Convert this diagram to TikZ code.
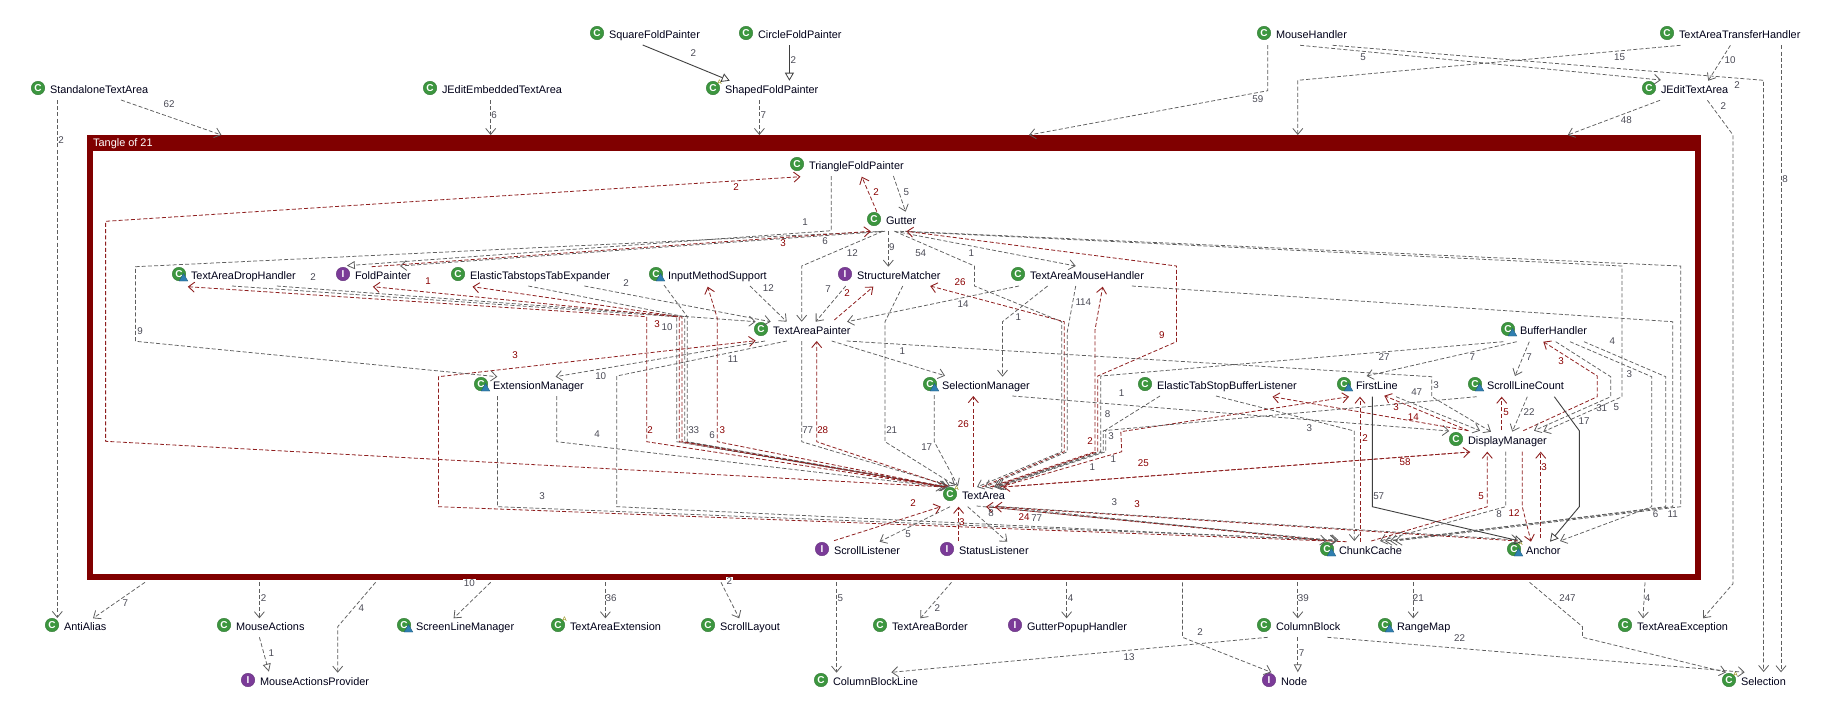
\documentclass[tikz,border=0pt]{standalone}
\usepackage{fontspec}
\setmainfont{Liberation Sans}
\usetikzlibrary{arrows.meta,shapes.geometric}
\definecolor{framered}{HTML}{800000}
\definecolor{depgray}{HTML}{5E5E5E}
\definecolor{depred}{HTML}{8F1F1F}
\definecolor{solidgray}{HTML}{3F3F3F}
\definecolor{lblgray}{HTML}{4A4A55}
\definecolor{lblred}{HTML}{8B0000}
\definecolor{iconC}{HTML}{3C963F}
\definecolor{iconI}{HTML}{7B3B98}
\definecolor{iconB}{HTML}{2F7FB0}
\tikzset{
  gd/.style={depgray,line width=0.75pt,dash pattern=on 4pt off 2.2pt,-{Straight Barb[length=6pt,width=10pt,line width=0.8pt]}},
  rd/.style={depred,line width=0.8pt,dash pattern=on 4pt off 2.2pt,-{Straight Barb[length=6pt,width=10pt,line width=0.9pt]}},
  gt/.style={depgray,line width=0.75pt,dash pattern=on 4pt off 2.2pt,-{Triangle[open,length=8pt,width=8pt,line width=0.8pt]}},
  inh/.style={solidgray,line width=0.9pt,-{Triangle[open,length=8pt,width=9pt,line width=0.8pt]}},
  cname/.style={inner sep=0pt,outer sep=0pt,text height=10pt,text depth=2pt,text=black!90!blue,font=\fontsize{10.9}{12}\selectfont},
  cicon/.style={circle,inner sep=0pt,outer sep=0pt,minimum size=13.5pt,fill=iconC,draw=iconC!80!black,line width=0.4pt,text=white,font=\bfseries\fontsize{10}{10}\selectfont},
  iicon/.style={circle,inner sep=0pt,outer sep=0pt,minimum size=13.5pt,fill=iconI,draw=iconI!80!black,line width=0.4pt,text=white,font=\bfseries\fontsize{10}{10}\selectfont},
  badge/.style={regular polygon,regular polygon sides=3,inner sep=0pt,outer sep=0pt,minimum size=10pt,fill=iconB,draw=iconB!70!black,line width=0.3pt},
  amark/.style={inner sep=0pt,text=olive,font=\fontsize{6.5}{7}\selectfont},
  gl/.style={inner sep=0pt,text=lblgray,font=\fontsize{9.8}{10}\selectfont},
  rl/.style={inner sep=0pt,text=lblred,font=\fontsize{9.8}{10}\selectfont},
  gw/.style={gl,fill=white,inner sep=1pt},
  tanglebox/.style={rectangle,draw=framered,fill=white,line width=6pt,outer sep=0pt,inner sep=0pt,minimum width=1607.7pt,minimum height=439pt,anchor=north west},
  tanglebar/.style={rectangle,fill=framered,outer sep=0pt,inner sep=0pt,minimum width=1613.7pt,minimum height=16pt,anchor=north west},
  tangletext/.style={inner sep=0pt,text=white,font=\fontsize{10.9}{12}\selectfont,anchor=west}
}
\newcommand\cnode[4]{\node[cname,anchor=west] (#1) at (#2,#3) {#4}; \node[cicon] (#1icon) at ([shift={(-12,-1)}]#1.west) {C};}
\newcommand\inode[4]{\node[cname,anchor=west] (#1) at (#2,#3) {#4}; \node[iicon] (#1icon) at ([shift={(-12,-1)}]#1.west) {I};}
\newcommand\bnode[1]{\node[badge] (#1badge) at ([shift={(-7.5,3.5)}]#1.west) {};}
\newcommand\anode[1]{\node[amark] (#1amark) at ([shift={(-5.5,-7)}]#1.west) {A};}
\begin{document}
\begin{tikzpicture}[x=1pt,y=-1pt]
\useasboundingbox (0,0) rectangle (1828,715);
\fill[white] (0,0) rectangle (1828,715);
\node[tanglebox] (tangle) at (90,138) {};
\node[tanglebar] (tbar) at (87,135) {};
\node[tangletext] (ttitle) at (93,143.5) {Tangle of 21};
% nodes
\cnode{sta}{50}{89}{StandaloneTextArea}
\cnode{jee}{442}{89}{JEditEmbeddedTextArea}
\cnode{sqf}{609}{34}{SquareFoldPainter}
\cnode{cif}{758}{34}{CircleFoldPainter}
\cnode{shf}{725}{89}{ShapedFoldPainter}\anode{shf}
\cnode{mou}{1276}{34}{MouseHandler}
\cnode{tth}{1679}{34}{TextAreaTransferHandler}
\cnode{jet}{1661}{89}{JEditTextArea}
\cnode{tri}{809}{165}{TriangleFoldPainter}
\cnode{gut}{886}{220}{Gutter}
\cnode{dro}{191}{275}{TextAreaDropHandler}\bnode{dro}
\inode{fop}{355}{275}{FoldPainter}
\cnode{ete}{470}{275}{ElasticTabstopsTabExpander}
\cnode{ims}{668}{275}{InputMethodSupport}\bnode{ims}
\inode{stm}{857}{275}{StructureMatcher}
\cnode{tam}{1030}{275}{TextAreaMouseHandler}
\cnode{tap}{773}{330}{TextAreaPainter}
\cnode{buf}{1520}{330}{BufferHandler}\bnode{buf}
\cnode{ext}{493}{385}{ExtensionManager}\bnode{ext}
\cnode{sma}{942}{385}{SelectionManager}\bnode{sma}
\cnode{esb}{1157}{385}{ElasticTabStopBufferListener}
\cnode{fir}{1356}{385}{FirstLine}\bnode{fir}
\cnode{slc}{1487}{385}{ScrollLineCount}\bnode{slc}
\cnode{dis}{1468}{440}{DisplayManager}
\cnode{txa}{962}{495}{TextArea}\anode{txa}
\inode{scl}{834}{550}{ScrollListener}
\inode{stl}{959}{550}{StatusListener}
\cnode{chu}{1339}{550}{ChunkCache}\bnode{chu}
\cnode{anc}{1526}{550}{Anchor}\bnode{anc}\anode{anc}
\cnode{ant}{64}{626}{AntiAlias}
\cnode{mac}{236}{626}{MouseActions}
\cnode{sln}{416}{626}{ScreenLineManager}\bnode{sln}
\cnode{tae}{570}{626}{TextAreaExtension}\anode{tae}
\cnode{slo}{720}{626}{ScrollLayout}
\cnode{tab}{892}{626}{TextAreaBorder}
\inode{gph}{1027}{626}{GutterPopupHandler}
\cnode{cob}{1276}{626}{ColumnBlock}
\cnode{ran}{1397}{626}{RangeMap}\bnode{ran}
\cnode{tax}{1637}{626}{TextAreaException}
\inode{map}{260}{681}{MouseActionsProvider}
\cnode{cbl}{833}{681}{ColumnBlockLine}
\inode{nod}{1281}{681}{Node}
\cnode{slt}{1741}{681}{Selection}\anode{slt}
% outer connectors
\draw[gd] ([shift={(57.3-50,100-89)}]sta.west) -- ([shift={(57.3-64,618-626)}]ant.west);
\draw[gd] ([shift={(121-50,100-89)}]sta.west) -- ([shift={(221.4-90,135-138)}]tangle.north west);
\draw[gd] ([shift={(490.7-442,100-89)}]jee.west) -- ([shift={(490.7-90,135-138)}]tangle.north west);
\draw[inh] ([shift={(642.7-609,45-34)}]sqf.west) -- ([shift={(729.7-725,80.7-89)}]shf.west);
\draw[inh] ([shift={(789.4-758,45-34)}]cif.west) -- ([shift={(789.4-725,80.7-89)}]shf.west);
\draw[gd] ([shift={(759.4-725,100-89)}]shf.west) -- ([shift={(759.4-90,135-138)}]tangle.north west);
\draw[gd] ([shift={(1267.7-1276,45-34)}]mou.west) -- (1267.7,90.7) -- ([shift={(1029-90,135-138)}]tangle.north west);
\draw[gd] ([shift={(1300.2-1276,45.3-34)}]mou.west) -- ([shift={(1660.8-1661,80-89)}]jet.west);
\draw[gd] ([shift={(1332.6-1276,45.3-34)}]mou.west) -- (1763.6,80.3) -- ([shift={(1763.6-1741,672-681)}]slt.west);
\draw[gd] ([shift={(1680.5-1679,45.3-34)}]tth.west) -- (1297.8,80.3) -- ([shift={(1297.8-90,135-138)}]tangle.north west);
\draw[gd] ([shift={(1730.4-1679,45.3-34)}]tth.west) -- ([shift={(1708.2-1661,80.7-89)}]jet.west);
\draw[gd] ([shift={(1781-1679,45.3-34)}]tth.west) -- ([shift={(1781-1741,672.3-681)}]slt.west);
\draw[gd] ([shift={(1660-1661,100.3-89)}]jet.west) -- ([shift={(1567.8-90,135-138)}]tangle.north west);
\draw[gd] ([shift={(1707.4-1661,100.3-89)}]jet.west) -- (1733,135) -- (1733,583.7) -- ([shift={(1703-1637,618.3-626)}]tax.west);
\draw[gd] ([shift={(145-90,582.3-138)}]tangle.north west) -- ([shift={(93-64,618.3-626)}]ant.west);
\draw[gd] ([shift={(259.4-90,582.3-138)}]tangle.north west) -- ([shift={(259.4-236,618.3-626)}]mac.west);
\draw[gd] ([shift={(375.6-90,582.3-138)}]tangle.north west) -- (337.7,626.7) -- ([shift={(337.7-260,672.7-681)}]map.west);
\draw[gt] ([shift={(259.4-236,637.3-626)}]mac.west) -- ([shift={(268.9-260,671.7-681)}]map.west);
\draw[gd] ([shift={(490.7-90,582.3-138)}]tangle.north west) -- ([shift={(453.6-416,618.3-626)}]sln.west);
\draw[gd] ([shift={(605.4-90,582.3-138)}]tangle.north west) -- ([shift={(605.4-570,618.3-626)}]tae.west);
\draw[gd] ([shift={(721-90,582.3-138)}]tangle.north west) -- ([shift={(739.2-720,618.3-626)}]slo.west);
\draw[gd] ([shift={(836.5-90,582.3-138)}]tangle.north west) -- ([shift={(836.5-833,672.7-681)}]cbl.west);
\draw[gd] ([shift={(951.5-90,582.3-138)}]tangle.north west) -- ([shift={(920.3-892,618.3-626)}]tab.west);
\draw[gd] ([shift={(1066.6-90,582.3-138)}]tangle.north west) -- ([shift={(1066.6-1027,618.3-626)}]gph.west);
\draw[gd] ([shift={(1182.5-90,582.3-138)}]tangle.north west) -- (1182.5,637.3) -- ([shift={(1271.3-1281,672.3-681)}]nod.west);
\draw[gd] ([shift={(1297.8-90,582.3-138)}]tangle.north west) -- ([shift={(1297.8-1276,618.3-626)}]cob.west);
\draw[gd] ([shift={(1267.7-1276,637.3-626)}]cob.west) -- ([shift={(891.4-833,672.3-681)}]cbl.west);
\draw[gt] ([shift={(1297.8-1276,637.3-626)}]cob.west) -- ([shift={(1297.8-1281,672.3-681)}]nod.west);
\draw[gd] ([shift={(1327.4-1276,637.3-626)}]cob.west) -- ([shift={(1744.6-1741,672.3-681)}]slt.west);
\draw[gd] ([shift={(1413.2-90,582.3-138)}]tangle.north west) -- ([shift={(1413.2-1397,618.3-626)}]ran.west);
\draw[gd] ([shift={(1529.5-90,582.3-138)}]tangle.north west) -- (1582.5,626.7) -- (1582.5,637.3) -- ([shift={(1726-1741,672.3-681)}]slt.west);
\draw[gd] ([shift={(1645-90,582.3-138)}]tangle.north west) -- ([shift={(1643-1637,618.3-626)}]tax.west);
% long loops
\draw[rd] ([shift={(944-962,487-495)}]txa.west) -- (105.6,441.3) -- (105.6,221.3) -- ([shift={(800.5-809,176.7-165)}]tri.west);
\draw[rd] ([shift={(1346.7-1339,541.7-550)}]chu.west) -- (438.5,506.7) -- (438.5,376.7) -- ([shift={(755.7-773,340.7-330)}]tap.west);
\draw[gd] ([shift={(882.7-886,231.3-220)}]gut.west) -- (135.6,266.7) -- (135.6,341.3) -- ([shift={(497.4-493,376.7-385)}]ext.west);
\draw[gd] ([shift={(556.7-493,396-385)}]ext.west) -- (556.7,441.7) -- ([shift={(943-962,487-495)}]txa.west);
\draw[gd] ([shift={(497.4-493,396-385)}]ext.west) -- (497.4,506.7) -- ([shift={(1338.3-1339,540-550)}]chu.west);
\draw[gd] ([shift={(765-773,341-330)}]tap.west) -- ([shift={(555.6-493,376.7-385)}]ext.west);
\draw[gd] ([shift={(786.7-773,341-330)}]tap.west) -- (616.7,376) -- (616.7,506.7) -- ([shift={(1336.7-1339,540.7-550)}]chu.west);
% top left bundle
\draw[gd] ([shift={(232-191,286-275)}]dro.west) -- (676.7,316.7) -- (676.7,441.7) -- ([shift={(946-962,487-495)}]txa.west);
\draw[gd] ([shift={(276.8-191,286-275)}]dro.west) -- ([shift={(755.7-773,321.7-330)}]tap.west);
\draw[gd] ([shift={(528.3-470,286-275)}]ete.west) -- (684.7,316.7) -- (684.7,441.7) -- ([shift={(947-962,487-495)}]txa.west);
\draw[gd] ([shift={(584.4-470,286-275)}]ete.west) -- ([shift={(770.7-773,321.7-330)}]tap.west);
\draw[gd] ([shift={(664-668,285-275)}]ims.west) -- (687.3,316.7) -- (687.3,441.7) -- ([shift={(948-962,487-495)}]txa.west);
\draw[gd] ([shift={(750-668,286-275)}]ims.west) -- ([shift={(786.7-773,321.7-330)}]tap.west);
\draw[rd] ([shift={(944-962,487-495)}]txa.west) -- (646.7,441.7) -- (646.7,316.7) -- ([shift={(187.8-191,286.7-275)}]dro.west);
\draw[rd] ([shift={(945-962,487-495)}]txa.west) -- (679.3,441.7) -- (679.3,317) -- ([shift={(372.9-355,286.7-275)}]fop.west);
\draw[rd] ([shift={(946-962,487-495)}]txa.west) -- (682,441.7) -- (682,317) -- ([shift={(472.5-470,286.7-275)}]ete.west);
\draw[rd] ([shift={(945-962,487-495)}]txa.west) -- (717.3,441.7) -- (717.3,318.3) -- ([shift={(707.7-668,286.7-275)}]ims.west);
% Gutter
\draw[rd] ([shift={(876.8-886,211.7-220)}]gut.west) -- ([shift={(861.8-809,176.7-165)}]tri.west);
\draw[gd] ([shift={(893.4-809,176-165)}]tri.west) -- ([shift={(905.6-886,211.7-220)}]gut.west);
\draw[gt] ([shift={(831.3-809,176-165)}]tri.west) -- (831.3,230.7) -- ([shift={(346.8-355,265.7-275)}]fop.west);
\draw[gd] ([shift={(885-886,231.3-220)}]gut.west) -- ([shift={(400-355,266-275)}]fop.west);
\draw[rd] ([shift={(371.7-355,266.7-275)}]fop.west) -- ([shift={(870.8-886,231.3-220)}]gut.west);
\draw[gd] ([shift={(882.7-886,231.3-220)}]gut.west) -- (801.7,266) -- ([shift={(801.7-773,321.7-330)}]tap.west);
\draw[gd] ([shift={(888.3-886,231.3-220)}]gut.west) -- ([shift={(888.3-857,266.7-275)}]stm.west);
\draw[gd] ([shift={(894.6-886,231.3-220)}]gut.west) -- (974.5,266) -- (974.5,286) -- (1061.7,321.7) -- (1061.7,451.7) -- ([shift={(977-962,487-495)}]txa.west);
\draw[gd] ([shift={(894.6-886,231.3-220)}]gut.west) -- ([shift={(1075.7-1030,266-275)}]tam.west);
\draw[gd] ([shift={(900-886,231.3-220)}]gut.west) -- (1622,266) -- (1622,396.7) -- ([shift={(1543.3-1468,431.7-440)}]dis.west);
\draw[gd] ([shift={(905-886,231.3-220)}]gut.west) -- (1680.7,266) -- (1680.7,506.7) -- ([shift={(1395-1339,541-550)}]chu.west);
\draw[rd] ([shift={(982-962,487-495)}]txa.west) -- (1064.3,451.7) -- (1064.3,321.7) -- ([shift={(930.2-857,286-275)}]stm.west);
\draw[rd] ([shift={(992-962,487-495)}]txa.west) -- (1097.7,451.7) -- (1097.7,376) -- (1176.5,341.7) -- (1176.5,266) -- ([shift={(906.4-886,231.3-220)}]gut.west);
% Painter, Matcher, MouseHandler
\draw[gd] ([shift={(845.7-857,286-275)}]stm.west) -- ([shift={(815.7-773,321.7-330)}]tap.west);
\draw[rd] ([shift={(834.3-773,320-330)}]tap.west) -- ([shift={(873.3-857,286.7-275)}]stm.west);
\draw[gd] ([shift={(902.7-857,286-275)}]stm.west) -- (885,321.7) -- (885,441.7) -- ([shift={(955-962,485.5-495)}]txa.west);
\draw[gd] ([shift={(1019-1030,286-275)}]tam.west) -- ([shift={(847.1-773,321.7-330)}]tap.west);
\draw[gd] ([shift={(1047.6-1030,286-275)}]tam.west) -- (1002.5,321.7) -- ([shift={(1002.5-942,376.7-385)}]sma.west);
\draw[gd] ([shift={(1075.7-1030,286-275)}]tam.west) -- (1067.3,331.7) -- (1067.3,451.7) -- ([shift={(985-962,487-495)}]txa.west);
\draw[rd] ([shift={(990-962,487-495)}]txa.west) -- (1095,451.7) -- (1095,330) -- ([shift={(1102.7-1030,286.7-275)}]tam.west);
\draw[gd] ([shift={(1131.9-1030,286-275)}]tam.west) -- (1672.7,321.7) -- (1672.7,506.7) -- ([shift={(1385-1339,541-550)}]chu.west);
\draw[gd] ([shift={(801.7-773,341-330)}]tap.west) -- (801.7,441.7) -- ([shift={(950-962,486-495)}]txa.west);
\draw[rd] ([shift={(948-962,486-495)}]txa.west) -- (816.7,441.7) -- ([shift={(816.7-773,341-330)}]tap.west);
\draw[gd] ([shift={(831.7-773,341-330)}]tap.west) -- ([shift={(945-942,375.7-385)}]sma.west);
\draw[gd] ([shift={(846.7-773,341-330)}]tap.west) -- (1431.7,376.7) -- (1431.7,396.7) -- ([shift={(1491-1468,431.7-440)}]dis.west);
\draw[gd] ([shift={(934.3-942,395-385)}]sma.west) -- (934.3,441.7) -- ([shift={(958-962,486-495)}]txa.west);
\draw[rd] ([shift={(973.3-962,487-495)}]txa.west) -- ([shift={(973.3-942,396-385)}]sma.west);
\draw[gd] ([shift={(1012.3-942,396-385)}]sma.west) -- ([shift={(1449.2-1468,431-440)}]dis.west);
% ElasticTabStopBufferListener, FirstLine, BufferHandler
\draw[gd] ([shift={(1160-1157,396-385)}]esb.west) -- (1105.7,430) -- (1105.7,451.7) -- ([shift={(998-962,487-495)}]txa.west);
\draw[gd] ([shift={(1216-1157,396-385)}]esb.west) -- (1354.3,431) -- ([shift={(1354.3-1339,541-550)}]chu.west);
\draw[rd] ([shift={(1000-962,487-495)}]txa.west) -- (1121.7,451.7) -- (1120.8,431.7) -- ([shift={(1349-1356,396.7-385)}]fir.west);
\draw[rd] ([shift={(1468.3-1468,430.7-440)}]dis.west) -- ([shift={(1272.5-1157,396.7-385)}]esb.west);
\draw[rd] ([shift={(1468.3-1468,430.7-440)}]dis.west) -- ([shift={(1384.3-1356,395.7-385)}]fir.west);
\draw[rd] ([shift={(1360-1339,541.7-550)}]chu.west) -- ([shift={(1360-1356,396.7-385)}]fir.west);
\draw[gd] ([shift={(1396-1356,396.7-385)}]fir.west) -- ([shift={(1480-1468,430.7-440)}]dis.west);
\draw[inh] ([shift={(1372.3-1356,396.7-385)}]fir.west) -- (1372.3,506.7) -- ([shift={(1522.7-1526,541.7-550)}]anc.west);
\draw[gd] ([shift={(1503.3-1520,341.7-330)}]buf.west) -- (1100.7,376) -- (1100.7,451.7) -- ([shift={(994-962,487-495)}]txa.west);
\draw[gd] ([shift={(1516.7-1520,341.7-330)}]buf.west) -- ([shift={(1366.7-1356,376-385)}]fir.west);
\draw[gd] ([shift={(1529.3-1520,341.7-330)}]buf.west) -- ([shift={(1515-1487,376-385)}]slc.west);
\draw[rd] ([shift={(1523.3-1468,430.7-440)}]dis.west) -- (1597.3,396.7) -- (1597.3,376) -- ([shift={(1543.3-1520,341.7-330)}]buf.west);
\draw[gd] ([shift={(1555.7-1520,341.7-330)}]buf.west) -- (1610.7,376.7) -- (1610.7,396.7) -- ([shift={(1534-1468,430.7-440)}]dis.west);
\draw[gd] ([shift={(1570-1520,341.7-330)}]buf.west) -- (1651.7,376.7) -- (1651.7,506.7) -- ([shift={(1560-1526,541-550)}]anc.west);
\draw[gd] ([shift={(1584-1520,341.7-330)}]buf.west) -- (1665.7,376.7) -- (1665.7,506.7) -- ([shift={(1390-1339,541-550)}]chu.west);
% ScrollLineCount, DisplayManager
\draw[gd] ([shift={(1476.7-1487,396.7-385)}]slc.west) -- (1103.3,430.7) -- (1103.3,451.7) -- ([shift={(996-962,487-495)}]txa.west);
\draw[rd] ([shift={(1501.7-1468,430-440)}]dis.west) -- ([shift={(1501.7-1487,396.7-385)}]slc.west);
\draw[gd] ([shift={(1527.3-1487,396.7-385)}]slc.west) -- ([shift={(1512.3-1468,431.7-440)}]dis.west);
\draw[inh] ([shift={(1554.3-1487,396.7-385)}]slc.west) -- (1579.3,430.7) -- (1579.3,506.7) -- ([shift={(1550-1526,541.7-550)}]anc.west);
\draw[rd] ([shift={(1470-1468,452-440)}]dis.west) -- ([shift={(1003-962,487-495)}]txa.west);
\draw[rd] ([shift={(1003-962,487-495)}]txa.west) -- ([shift={(1470-1468,452-440)}]dis.west);
\draw[gd] ([shift={(1505.7-1468,451.7-440)}]dis.west) -- (1505.7,506.7) -- ([shift={(1380-1339,541-550)}]chu.west);
\draw[rd] ([shift={(1371.3-1339,541-550)}]chu.west) -- (1487.3,506.7) -- ([shift={(1487.3-1468,451.7-440)}]dis.west);
\draw[rd] ([shift={(1522.3-1468,451.7-440)}]dis.west) -- (1522.3,506.7) -- ([shift={(1531-1526,541.7-550)}]anc.west);
\draw[rd] ([shift={(1540.7-1526,538.3-550)}]anc.west) -- ([shift={(1540.7-1468,451.7-440)}]dis.west);
% TextArea lower side
\draw[gd] ([shift={(976.7-962,506-495)}]txa.west) -- ([shift={(1336.7-1339,540.7-550)}]chu.west);
\draw[gd] ([shift={(1000-962,506.7-495)}]txa.west) -- ([shift={(1326.7-1339,540.7-550)}]chu.west);
\draw[rd] ([shift={(1330-1339,541-550)}]chu.west) -- ([shift={(986-962,506.7-495)}]txa.west);
\draw[gd] ([shift={(990-962,506-495)}]txa.west) -- ([shift={(1518-1526,540-550)}]anc.west);
\draw[rd] ([shift={(1518-1526,541-550)}]anc.west) -- ([shift={(995-962,506.7-495)}]txa.west);
\draw[gd] ([shift={(950-962,506.7-495)}]txa.west) -- ([shift={(879.6-834,541.7-550)}]scl.west);
\draw[rd] ([shift={(834-834,540.7-550)}]scl.west) -- ([shift={(940.8-962,506.7-495)}]txa.west);
\draw[rd] ([shift={(958.6-959,541-550)}]stl.west) -- ([shift={(958.6-962,506.7-495)}]txa.west);
\draw[gd] ([shift={(967.7-962,506.7-495)}]txa.west) -- ([shift={(1007.3-959,541.7-550)}]stl.west);
% labels gray
\node[gl] (g1) at (169,104.5) {62}; \node[gl] (g2) at (61,140) {2}; \node[gl] (g3) at (494,115.5) {6};
\node[gl] (g4) at (693.3,53.3) {2}; \node[gl] (g5) at (793.4,60.3) {2}; \node[gl] (g6) at (763.3,115.3) {7};
\node[gl] (g7) at (1257.8,98.7) {59}; \node[gl] (g8) at (1363,57.3) {5}; \node[gl] (g9) at (1737,85) {2};
\node[gl] (g10) at (1619.6,56.7) {15}; \node[gl] (g11) at (1730,60.3) {10}; \node[gl] (g12) at (1785,178.7) {8};
\node[gl] (g13) at (1626.4,120.3) {48}; \node[gl] (g14) at (1723.3,105.7) {2};
\node[gl] (g15) at (125.3,603.3) {7}; \node[gl] (g16) at (263.7,597.7) {2}; \node[gl] (g17) at (361.4,607.7) {4};
\node[gl] (g18) at (271.3,652.7) {1}; \node[gw] (g19) at (469.4,583.3) {10}; \node[gl] (g20) at (611,597.7) {36};
\node[gw] (g21) at (729.3,581.3) {2}; \node[gl] (g22) at (840.4,597.7) {5}; \node[gl] (g23) at (937.3,607.7) {2};
\node[gl] (g24) at (1070.5,597.7) {4}; \node[gl] (g25) at (1200.2,631.7) {2}; \node[gl] (g26) at (1303.3,597.7) {39};
\node[gl] (g27) at (1129,656.7) {13}; \node[gl] (g28) at (1301.7,652.7) {7}; \node[gl] (g29) at (1459.5,637.7) {22};
\node[gl] (g30) at (1418.4,597.7) {21}; \node[gl] (g31) at (1567.5,597.7) {247}; \node[gl] (g32) at (1647.7,597.7) {4};
\node[gl] (g33) at (906.4,191.7) {5}; \node[gl] (g34) at (805.2,221.7) {1}; \node[gl] (g35) at (825,240.7) {6};
\node[gl] (g36) at (852.3,252.7) {12}; \node[gl] (g37) at (891.8,246.7) {9}; \node[gl] (g38) at (920.7,252.7) {54};
\node[gl] (g39) at (971.3,252.7) {1}; \node[gl] (g40) at (140,330.7) {9}; \node[gl] (g41) at (313,277.3) {2};
\node[gl] (g42) at (626,282.7) {2}; \node[gl] (g43) at (768.3,287.7) {12}; \node[gl] (g44) at (828,289.3) {7};
\node[gl] (g45) at (963,304.3) {14}; \node[gl] (g46) at (1018.3,317.3) {1}; \node[gl] (g47) at (1083.3,301.7) {114};
\node[gl] (g48) at (667,326.7) {10}; \node[gl] (g49) at (600.7,375.7) {10}; \node[gl] (g50) at (733,359.3) {11};
\node[gl] (g51) at (902.3,350.7) {1}; \node[gl] (g52) at (597,434.3) {4}; \node[gl] (g53) at (542,496.3) {3};
\node[gl] (g54) at (693.7,430.3) {33}; \node[gl] (g55) at (712,434.7) {6}; \node[gl] (g56) at (807.7,430.3) {77};
\node[gl] (g57) at (891.7,430.3) {21}; \node[gl] (g58) at (926.7,447.3) {17}; \node[gl] (g59) at (1121.7,393.3) {1};
\node[gl] (g60) at (1107.7,414.3) {8}; \node[gl] (g61) at (1111,436) {3}; \node[gl] (g62) at (1092.3,466.7) {1};
\node[gl] (g63) at (1113.3,459.3) {1}; \node[gl] (g64) at (1309.3,427.7) {3}; \node[gl] (g65) at (1384,357.3) {27};
\node[gl] (g66) at (1472.3,357.3) {7}; \node[gl] (g67) at (1529,356.7) {7}; \node[gl] (g68) at (1612.3,340.7) {4};
\node[gl] (g69) at (1629.3,374) {3}; \node[gl] (g70) at (1436,385) {3}; \node[gl] (g71) at (1416.7,391.7) {47};
\node[gl] (g72) at (1529,411.7) {22}; \node[gl] (g73) at (1601.7,408.3) {31}; \node[gl] (g74) at (1616.3,406.7) {5};
\node[gl] (g75) at (1584,420.7) {17}; \node[gl] (g76) at (1378.7,495.7) {57}; \node[gl] (g77) at (1499,514.3) {8};
\node[gl] (g78) at (1655.6,514.3) {6}; \node[gl] (g79) at (1672.6,513.7) {11}; \node[gl] (g80) at (908,534.3) {5};
\node[gl] (g81) at (991,513.3) {8}; \node[gl] (g82) at (1036.7,518.3) {77}; \node[gl] (g83) at (1114.3,502.3) {3};
% labels red
\node[rl] (r1) at (736,186.7) {2}; \node[rl] (r2) at (876,191.7) {2}; \node[rl] (r3) at (783,243.3) {3};
\node[rl] (r4) at (428,281) {1}; \node[rl] (r5) at (515.2,355.3) {3}; \node[rl] (r6) at (960,281.7) {26};
\node[rl] (r7) at (847,293.3) {2}; \node[rl] (r8) at (657,324.3) {3}; \node[rl] (r9) at (1161.9,335) {9};
\node[rl] (r10) at (650,430.3) {2}; \node[rl] (r11) at (722.3,430.3) {3}; \node[rl] (r12) at (822.7,430.3) {28};
\node[rl] (r13) at (963.3,424.3) {26}; \node[rl] (r14) at (1090,440.7) {2}; \node[rl] (r15) at (1143.3,463.3) {25};
\node[rl] (r16) at (1405,462.3) {58}; \node[rl] (r17) at (1561,361.3) {3}; \node[rl] (r18) at (1506,411.7) {5};
\node[rl] (r19) at (1413.3,416.7) {14}; \node[rl] (r20) at (1396,407.3) {3}; \node[rl] (r21) at (1365,438.3) {2};
\node[rl] (r22) at (1481,495.7) {5}; \node[rl] (r23) at (1514,512.7) {12}; \node[rl] (r24) at (1544,466.7) {3};
\node[rl] (r25) at (913.2,502.7) {2}; \node[rl] (r26) at (961.8,521.7) {3}; \node[rl] (r27) at (1024,516.7) {24};
\node[rl] (r28) at (1137,504) {3};
\end{tikzpicture}
\end{document}
